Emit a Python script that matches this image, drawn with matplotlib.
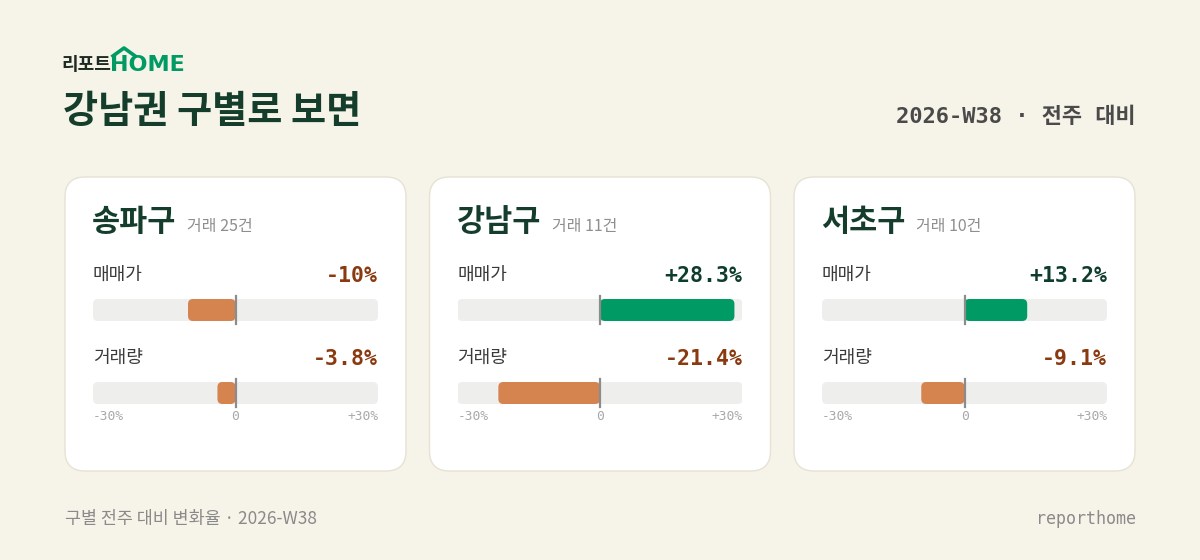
import matplotlib
matplotlib.use("Agg")
from matplotlib import pyplot as plt
from matplotlib.patches import FancyBboxPatch

# data
districts = ["송파구", "강남구", "서초구"]
deals = [25, 11, 10]
price_chg = [-10.0, 28.3, 13.2]
volume_chg = [-3.8, -21.4, -9.1]
metric_names = ["매매가", "거래량"]
axis_ticks = [-30, 0, 30]
axis_labels = ["-30%", "0", "+30%"]
week = "2026-W38"

BG = "#F6F3E8"
DARK = "#143D2C"
GREEN = "#009B65"
ORANGE = "#D5834F"
NEG_TXT = "#8A3A10"
POS_TXT = "#0F3D2C"
TRACK = "#EEEEEC"
KR = ["Noto Sans CJK KR", "DejaVu Sans"]
MONO = ["DejaVu Sans Mono", "Noto Sans CJK KR"]

W, H = 1200, 560
fig = plt.figure(figsize=(12, 5.6), dpi=100, facecolor=BG)
bg = fig.add_axes([0, 0, 1, 1])
bg.set_xlim(0, W)
bg.set_ylim(H, 0)
bg.axis("off")

# logo
bg.text(61, 65, "리포트", family=KR, fontsize=13, weight="black", color="#1d2b22", va="center")
bg.text(110, 65, "HOME", family="DejaVu Sans", fontsize=16, weight="bold", color=GREEN, va="center")
bg.plot([111.5, 124, 136.5], [57, 48, 57], color=GREEN, lw=2.6, solid_capstyle="butt")

# title / header
bg.text(63, 111, "강남권 구별로 보면", family=KR, fontsize=27.5, weight="bold", color=DARK, va="center")
bg.text(1136, 117, f"{week} · 전주 대비", family=MONO, fontsize=15.8, weight="bold",
        color="#4a4a4a", ha="right", va="center")

# footer
bg.text(65, 519, f"구별 전주 대비 변화율 · {week}", family=KR, fontsize=12.5, color="#8a8a8a", va="center")
bg.text(1136, 519, "reporthome", family=MONO, fontsize=12, color="#8a8a8a", ha="right", va="center")

card_x = [65, 429.5, 794]
card_w, card_y, card_h = 341, 177, 294
track_pad = 28
track_w = card_w - 2 * track_pad
ax_top, ax_bot = 255, 430
rows = [310, 393]
bar_h = 22

for i, name in enumerate(districts):
    x0 = card_x[i]
    bg.add_patch(FancyBboxPatch((x0, card_y), card_w, card_h,
                                boxstyle="round,pad=0,rounding_size=20",
                                fc="white", ec="#E6E2D4", lw=1.0))
    bg.text(x0 + 27, 222, name, family=KR, fontsize=22, weight="bold", color=DARK, va="center")
    bg.text(x0 + 122, 227, f"거래 {deals[i]}건", family=KR, fontsize=11.5, color="#8e8e8e", va="center")

    ax = fig.add_axes([(x0 + track_pad) / W, 1 - ax_bot / H, track_w / W, (ax_bot - ax_top) / H])
    ax.set_xlim(-30, 30)
    ax.set_ylim(ax_bot, ax_top)
    ax.axis("off")
    ax.patch.set_alpha(0)
    px_per_x = track_w / 60
    r = 5 / px_per_x
    for j, v in enumerate([price_chg[i], volume_chg[i]]):
        yc = rows[j]
        ax.add_patch(FancyBboxPatch((-30, yc - bar_h / 2), 60, bar_h,
                                    boxstyle=f"round,pad=0,rounding_size={r}",
                                    mutation_aspect=5 / r, fc=TRACK, ec="none"))
        ax.add_patch(FancyBboxPatch((min(0, v), yc - bar_h / 2), abs(v), bar_h,
                                    boxstyle=f"round,pad=0,rounding_size={r}",
                                    mutation_aspect=5 / r,
                                    fc=GREEN if v > 0 else ORANGE, ec="none"))
        ax.plot([0, 0], [yc - 14, yc + 14], color="#8c8c8c", lw=1.6)
        ax.text(-30, yc - 35, metric_names[j], family=KR, fontsize=13, weight="medium",
                color="#3a3a3a", va="center")
        sign = "+" if v > 0 else ""
        ax.text(30, yc - 34, f"{sign}{v:g}%", family=MONO, fontsize=15.5, weight="bold",
                color=POS_TXT if v > 0 else NEG_TXT, ha="right", va="center")
    for t, lab, ha in zip(axis_ticks, axis_labels, ["left", "center", "right"]):
        ax.text(t, 417, lab, family=MONO, fontsize=9.3, color="#a8a8a8", ha=ha, va="center")

fig.savefig("out.png", dpi=100, facecolor=BG)
